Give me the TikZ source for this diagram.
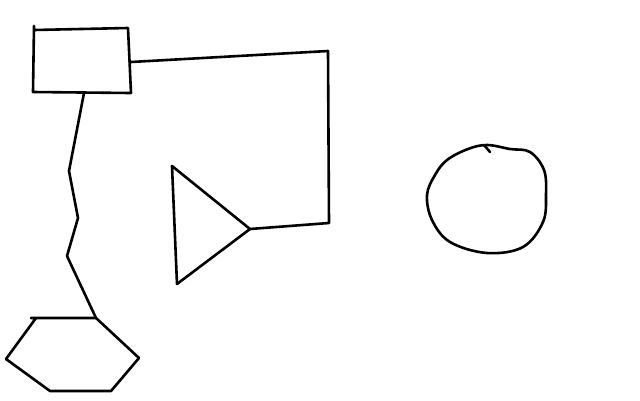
\documentclass[tikz,border=0pt]{standalone}
\begin{document}
\begin{tikzpicture}[x=1pt,y=-1pt,
  ink/.style={draw=black,line width=2.6pt,line join=round,line cap=round}]
\useasboundingbox[fill=white] (0,0) rectangle (640,400);
% rectangle
\coordinate (r1) at (34,26);
\coordinate (r2) at (34,30);
\coordinate (r3) at (128,28);
\coordinate (r4) at (131,93);
\coordinate (r5) at (33,92);
\draw[ink] (r1) -- (r2) -- (r3) -- (r4) -- (r5) -- cycle;
\coordinate (rr) at (131,62);
\coordinate (rb) at (84,93);
% triangle
\coordinate (t1) at (172,166);
\coordinate (t2) at (250,229);
\coordinate (t3) at (177,284);
\draw[ink] (t1) -- (t2) -- (t3) -- cycle;
% elbow connector
\coordinate (c1) at (328,51);
\coordinate (c2) at (329,223);
\draw[ink] (rr) -- (c1) -- (c2) -- (t2);
% hexagon
\coordinate (h0) at (31,318);
\coordinate (h1) at (36,318);
\coordinate (h2) at (96,318);
\coordinate (h3) at (139,358);
\coordinate (h4) at (111,391);
\coordinate (h5) at (50,391);
\coordinate (h6) at (6,359);
\draw[ink] (h0) -- (h2) -- (h3) -- (h4) -- (h5) -- (h6) -- (h1);
% zigzag connector
\coordinate (z1) at (69,171);
\coordinate (z2) at (78,218);
\coordinate (z3) at (67,256);
\draw[ink] (rb) -- (z1) -- (z2) -- (z3) -- (h2);
% circle
\draw[ink] plot[smooth cycle,tension=0.6] coordinates
  {(487,145) (510,149) (530,152) (544,170) (546,195) (543,222) (523,247)
   (487,253) (450,242) (432,220) (427,195) (435,175) (447,160) (468,149)};
\coordinate (k1) at (484,145);
\coordinate (k2) at (490,152);
\draw[ink] (k1) -- (k2);
\end{tikzpicture}
\end{document}
